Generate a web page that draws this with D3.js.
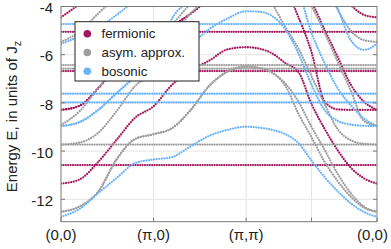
<!DOCTYPE html>
<html>
<head>
<meta charset="utf-8">
<script src="https://cdn.jsdelivr.net/npm/d3@7"></script>
<style>
  body { margin: 0; background: #fff; }
  text { font-family: "Liberation Sans", Arial, sans-serif; fill: #222; }
</style>
</head>
<body>
<svg id="chart" width="391" height="249"></svg>
<script>
// k-path: (0,0) -> (pi,0) -> (pi,pi) -> (0,0), in units of pi along the path
const kSeg = [0, 0.2, 0.4, 0.6, 0.8, 1, 1.2, 1.4, 1.6, 1.8, 2];
const diagFrac = [0.1, 0.2, 0.3, 0.4, 0.5, 0.6, 0.7, 0.8, 0.9, 1.0];
const kPath = kSeg.concat(diagFrac.map(f => 2 + Math.SQRT2 * f));
const kTickPos = [0, 1, 2, 2 + Math.SQRT2 / 2, 2 + Math.SQRT2];
const kTickLabels = ["(0,0)", "(π,0)", "(π,π)", "", "(0,0)"];
const energyTicks = [-12, -10, -8, -6, -4];

// flat bands (energy, units of Jz)
const fermionicFlat = [-10.58, -6.68, -5.05];
const asymFlat = [-9.73, -6.43, -6.58];
const bosonicFlat = [-7.62, -7.98, -4.73];

// dispersive bands, one value per kPath point (values above -4 run off the top)
const fermionicBands = [
  [-11.35, -11.18, -10.46, -9.54, -8.62, -8.14, -7.25, -6.65, -6.25, -5.78, -5.69, -5.75, -5.95, -6.35, -6.72, -8.05, -9.08, -9.97, -10.69, -11.13, -11.35],
  [-8.29, -8.12, -7.4, -6.48, -5.56, -5.08, -4.8, -4.3, -3.7, -3.2, -3.0, -3.0, -3.05, -3.2, -3.45, -3.85, -4.98, -6.1, -7.25, -7.95, -8.29],
  [-8.29, -8.12, -7.4, -6.48, -5.56, -5.08, -4.8, -4.3, -3.7, -3.2, -3.0, -3.0, -3.05, -3.3, -4.45, -5.9, -7.95, -8.27, -8.29, -8.29, -8.29],
  [-4.45, -3.9, -3.3, -2.5, -1.6, -1.1, -0.5, 0, 0, 0, 0, 0, 0, 0, 0, -1.5, -2.6, -3.4, -3.95, -4.35, -4.45]
];
const asymBands = [
  [-12.52, -12.3, -11.7, -10.35, -9.5, -9.3, -9.05, -8.3, -7.3, -6.7, -6.5, -6.55, -6.75, -7.3, -8.45, -9.43, -10.45, -11.25, -11.9, -12.35, -12.52],
  [-12.52, -12.3, -11.7, -10.35, -9.5, -9.3, -9.05, -8.3, -7.3, -6.7, -6.5, -6.55, -6.75, -7.2, -7.95, -9.0, -9.95, -10.95, -11.75, -12.3, -12.52],
  [-9.73, -9.65, -9.25, -8.35, -7.3, -6.7, -5.3, -4.3, -3.6, -3.2, -3.0, -3.1, -3.9, -4.85, -5.75, -6.9, -8.05, -9.1, -9.55, -9.7, -9.73],
  [-8.92, -8.35, -7.4, -6.5, -5.8, -5.4, -4.75, -3.9, -3.4, -3.1, -3.0, -3.0, -3.0, -3.1, -3.3, -4.0, -5.1, -6.3, -7.5, -8.75, -8.95],
  [-5.47, -5.05, -4.3, -3.6, -3.0, -2.8, -2.6, -2.5, -2.5, -2.5, -2.5, -2.5, -2.5, -2.5, -2.5, -2.6, -3.0, -4.13, -5.0, -5.4, -5.47]
];
const bosonicBands = [
  [-12.73, -12.4, -11.75, -11.12, -10.5, -10.35, -10.25, -9.8, -9.37, -9.12, -8.99, -9.03, -9.12, -9.3, -9.67, -10.4, -11.08, -11.67, -12.17, -12.53, -12.73],
  [-8.96, -8.8, -8.3, -7.6, -6.95, -6.6, -6.3, -5.6, -4.95, -4.5, -4.2, -4.22, -4.4, -4.95, -5.95, -7.25, -8.3, -8.75, -8.9, -8.95, -8.96],
  [-8.96, -8.8, -8.3, -7.6, -6.95, -6.6, -4.5, -3.8, -3.4, -3.2, -3.1, -3.1, -3.1, -3.15, -3.5, -5.1, -6.35, -7.4, -8.1, -8.65, -8.96],
  [-5.55, -5.25, -4.9, -4.35, -3.8, -3.5, -3.3, -3.1, -3.0, -2.9, -2.9, -2.9, -2.9, -2.9, -2.9, -2.9, -3.0, -4.1, -5.4, -5.8, -5.55]
];

const series = [
  { name: "fermionic", color: "#a3175f", flat: fermionicFlat, bands: fermionicBands },
  { name: "asym. approx.", color: "#9e9e9e", flat: asymFlat, bands: asymBands },
  { name: "bosonic", color: "#6cb4fa", flat: bosonicFlat, bands: bosonicBands }
];

const svg = d3.select("#chart");
const margin = { top: 6.5, right: 14, bottom: 27.3, left: 61 };
const width = 391 - margin.left - margin.right,
      height = 249 - margin.top - margin.bottom;

const x = d3.scaleLinear().domain([0, 2 + Math.SQRT2]).range([0, width]);
const y = d3.scaleLinear().domain([-12.93, -4]).range([height, 0]);

const g = svg.append("g").attr("transform", `translate(${margin.left},${margin.top})`);

// grid
g.append("g").selectAll("line").data(energyTicks).enter().append("line")
  .attr("x1", 0).attr("x2", width)
  .attr("y1", d => y(d)).attr("y2", d => y(d))
  .attr("stroke", "#e4e4e4").attr("stroke-width", 1);
g.append("g").selectAll("line").data(kTickPos.slice(1, 4)).enter().append("line")
  .attr("x1", d => x(d)).attr("x2", d => x(d))
  .attr("y1", 0).attr("y2", height)
  .attr("stroke", "#e4e4e4").attr("stroke-width", 1);

svg.append("clipPath").attr("id", "plotclip")
  .append("rect").attr("width", width).attr("height", height);

const plot = g.append("g").attr("clip-path", "url(#plotclip)");

const line = d3.line()
  .x(d => x(d[0]))
  .y(d => y(d[1]))
  .curve(d3.curveMonotoneX);

series.forEach(s => {
  const sg = plot.append("g");
  sg.selectAll(".flat").data(s.flat).enter().append("path")
    .attr("d", v => line([[0, v], [2 + Math.SQRT2, v]]))
    .attr("fill", "none").attr("stroke", s.color)
    .attr("stroke-width", 2.3).attr("stroke-linecap", "round")
    .attr("stroke-dasharray", "0 2.4");
  sg.selectAll(".band").data(s.bands).enter().append("path")
    .attr("d", vals => line(vals.map((v, i) => [kPath[i], v])))
    .attr("fill", "none").attr("stroke", s.color)
    .attr("stroke-width", 2.3).attr("stroke-linecap", "round")
    .attr("stroke-dasharray", "0 2.6");
});

// frame and axes
g.append("rect").attr("width", width).attr("height", height)
  .attr("fill", "none").attr("stroke", "#7a7a7a").attr("stroke-width", 1);

const yAxis = g.append("g");
energyTicks.forEach(t => {
  yAxis.append("line").attr("x1", 0).attr("x2", 4).attr("y1", y(t)).attr("y2", y(t)).attr("stroke", "#7a7a7a");
  yAxis.append("line").attr("x1", width - 4).attr("x2", width).attr("y1", y(t)).attr("y2", y(t)).attr("stroke", "#7a7a7a");
  yAxis.append("text").attr("x", -8).attr("y", y(t) + 6.8)
    .attr("text-anchor", "end").style("font-size", "15px").text(t);
});

const xAxis = g.append("g");
kTickPos.forEach((t, i) => {
  xAxis.append("line").attr("x1", x(t)).attr("x2", x(t)).attr("y1", height).attr("y2", height - 4).attr("stroke", "#7a7a7a");
  xAxis.append("text").attr("x", x(t) + (i === 4 ? -4.5 : 0)).attr("y", height + 18.5)
    .attr("text-anchor", "middle").style("font-size", "15px").text(kTickLabels[i]);
});

// y label
const yl = svg.append("text")
  .attr("transform", "translate(17,116.5) rotate(-90)")
  .attr("text-anchor", "middle").style("font-size", "15px");
yl.append("tspan").text("Energy E, in units of J");
yl.append("tspan").attr("dy", 4).style("font-size", "11px").text("z");

// legend
const lg = svg.append("g").attr("transform", "translate(75,21.7)");
lg.append("rect").attr("width", 124).attr("height", 59.3)
  .attr("fill", "#fff").attr("stroke", "#222").attr("stroke-width", 1);
series.forEach((s, i) => {
  lg.append("circle").attr("cx", 12.3).attr("cy", 12 + i * 18.8).attr("r", 3.8).attr("fill", s.color);
  lg.append("text").attr("x", 26.5).attr("y", 12 + i * 18.8)
    .attr("dominant-baseline", "central").style("font-size", "13.3px").text(s.name);
});
</script>
</body>
</html>
